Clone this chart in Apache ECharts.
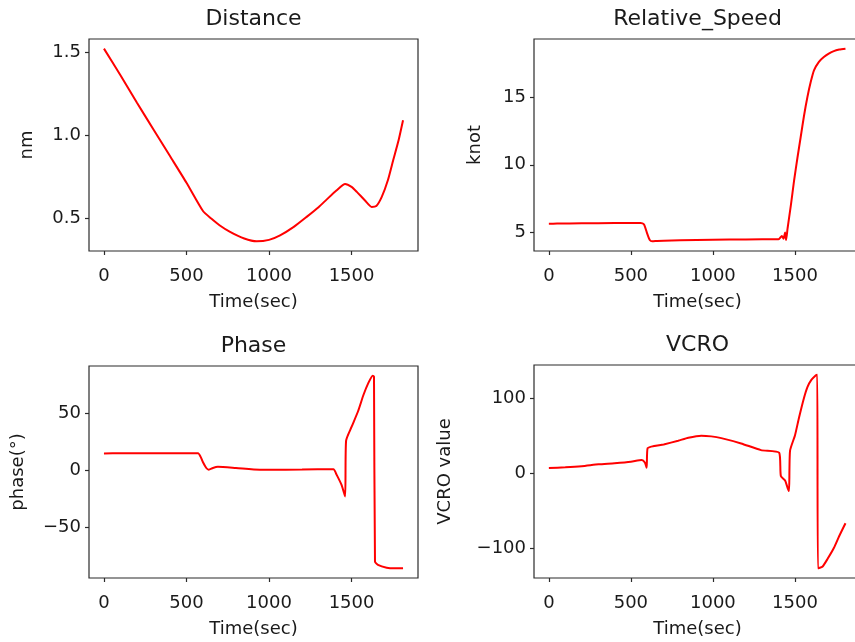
<!DOCTYPE html>
<html>
<head>
<meta charset="utf-8">
<script src="https://cdn.jsdelivr.net/npm/echarts@6/dist/echarts.min.js"></script>
<style>
html,body{margin:0;padding:0;background:#fff;}
#chart{width:855px;height:642px;}
</style>
</head>
<body>
<div id="chart"></div>
<script>
// ---- data ----
const titles = ['Distance', 'Relative_Speed', 'Phase', 'VCRO'];
const yNames = ['nm', 'knot', 'phase(°)', 'VCRO value'];
const xName = 'Time(sec)';

const xTicks = [0, 500, 1000, 1500];

const distT = [0, 100, 200, 300, 400, 500, 600, 650, 700, 764, 850, 925, 1000, 1067, 1150, 1228, 1300, 1350, 1410, 1461, 1500, 1532, 1580, 1622, 1650, 1683, 1720, 1753, 1785, 1812];
const distV = [1.52, 1.36, 1.195, 1.035, 0.875, 0.715, 0.545, 0.50, 0.46, 0.42, 0.38, 0.363, 0.372, 0.399, 0.45, 0.51, 0.568, 0.615, 0.67, 0.707, 0.69, 0.66, 0.61, 0.57, 0.575, 0.63, 0.73, 0.853, 0.97, 1.09];
const distTicks = [0.5, 1.0, 1.5];

const speedT = [0, 50, 200, 400, 560, 580, 600, 615, 630, 660, 700, 900, 1100, 1300, 1400, 1420, 1430, 1440, 1446, 1455, 1475, 1495, 1515, 1535, 1555, 1576, 1596, 1616, 1646, 1676, 1706, 1737, 1770, 1808];
const speedV = [5.65, 5.66, 5.68, 5.7, 5.7, 5.6, 4.9, 4.45, 4.35, 4.38, 4.4, 4.45, 4.48, 4.5, 4.5, 4.75, 4.55, 5.0, 4.45, 5.3, 7.0, 8.86, 10.5, 12.05, 13.6, 15.0, 16.1, 16.97, 17.6, 17.95, 18.2, 18.39, 18.5, 18.57];
const speedTicks = [5, 10, 15];

const phaseT = [0, 100, 300, 570, 585, 600, 620, 635, 660, 690, 800, 945, 1000, 1200, 1390, 1410, 1440, 1461, 1467, 1500, 1540, 1572, 1600, 1628, 1636, 1642, 1660, 1713, 1760, 1812];
const phaseV = [14.8, 14.9, 15, 15, 12, 7, 2, 0.5, 2, 3, 2, 0.5, 0.5, 0.6, 1.0, -4, -13, -23, 26, 38, 52, 66, 76, 83, 82, -80, -83, -85.5, -86, -86];
const phaseTicks = [-50, 0, 50];

const vcroT = [0, 100, 200, 303, 400, 500, 566, 585, 596, 602, 700, 788, 850, 929, 990, 1051, 1172, 1293, 1404, 1414, 1440, 1455, 1464, 1470, 1500, 1525, 1555, 1576, 1600, 1626, 1636, 1640, 1667, 1700, 1737, 1770, 1808];
const vcroV = [6.5, 7.5, 9, 11.5, 13, 15, 17.3, 14, 7, 33, 38, 43, 47, 49.7, 48.8, 46.5, 39.4, 30.5, 27, -4, -10, -19.7, -24, 29.5, 50, 74, 100, 114.5, 124, 130, 131, -127, -125, -114, -100, -84, -67];
const vcroTicks = [-100, 0, 100];

// ---- build chart ----
const FONT = 'DejaVu Sans';
const TXT = '#1a1a1a';
const grids = [
  {left: 89, top: 39, width: 329, height: 212},
  {left: 534, top: 39, width: 327, height: 212},
  {left: 89, top: 366, width: 329, height: 212},
  {left: 534, top: 365, width: 327, height: 213}
];
const series = [[distT, distV], [speedT, speedV], [phaseT, phaseV], [vcroT, vcroV]];
const yTicks = [distTicks, speedTicks, phaseTicks, vcroTicks];
const yFmt = [
  v => v.toFixed(1),
  v => String(v),
  v => (v < 0 ? '\u2212' + Math.abs(v) : String(v)),
  v => (v < 0 ? '\u2212' + Math.abs(v) : String(v))
];
const yGaps = [53, 50, 62, 80];

function pad(arr) {
  const mn = Math.min(...arr), mx = Math.max(...arr);
  const m = (mx - mn) * 0.05;
  return [mn - m, mx + m];
}

const allT = [].concat(distT, speedT, phaseT, vcroT);
const xr = pad([0, Math.max(...allT)]);

const option = {
  animation: false,
  backgroundColor: '#fff',
  title: grids.map((g, i) => ({
    text: titles[i],
    left: g.left + g.width / 2,
    top: g.top - 31,
    textAlign: 'center',
    padding: 0,
    textStyle: {fontFamily: FONT, fontSize: 22, fontWeight: 'normal', color: TXT}
  })),
  grid: grids.map(g => Object.assign({show: true, borderColor: '#2b2b2b', borderWidth: 1.2, backgroundColor: 'transparent', containLabel: false, outerBoundsMode: 'none'}, g)),
  xAxis: grids.map((g, i) => ({
    type: 'value', gridIndex: i, min: xr[0], max: xr[1], position: 'bottom',
    name: xName, nameLocation: 'middle', nameGap: 42,
    nameTextStyle: {fontFamily: FONT, fontSize: 18, color: TXT},
    axisLine: {show: false, onZero: false},
    axisTick: {show: true, inside: false, length: 4, lineStyle: {color: '#2b2b2b', width: 1.2}, customValues: xTicks},
    axisLabel: {fontFamily: FONT, fontSize: 18, color: TXT, margin: 16, customValues: xTicks, formatter: v => String(v)},
    splitLine: {show: false}
  })),
  yAxis: grids.map((g, i) => {
    const r = pad(series[i][1]);
    return {
      type: 'value', gridIndex: i, min: r[0], max: r[1], position: 'left',
      name: yNames[i], nameLocation: 'middle', nameGap: yGaps[i], nameRotate: 90,
      nameTextStyle: {fontFamily: FONT, fontSize: 18, color: TXT},
      axisLine: {show: false, onZero: false},
      axisTick: {show: true, inside: false, length: 4, lineStyle: {color: '#2b2b2b', width: 1.2}, customValues: yTicks[i]},
      axisLabel: {fontFamily: FONT, fontSize: 18, color: TXT, margin: 8, customValues: yTicks[i], formatter: yFmt[i]},
      splitLine: {show: false}
    };
  }),
  series: series.map((s, i) => ({
    type: 'line', xAxisIndex: i, yAxisIndex: i,
    data: s[0].map((t, k) => [t, s[1][k]]),
    showSymbol: false, smooth: 0.2,
    lineStyle: {color: '#ff0000', width: 2},
    itemStyle: {color: '#ff0000'}
  }))
};

const chart = echarts.init(document.getElementById('chart'), null, {renderer: 'canvas'});
chart.setOption(option);
</script>
</body>
</html>
